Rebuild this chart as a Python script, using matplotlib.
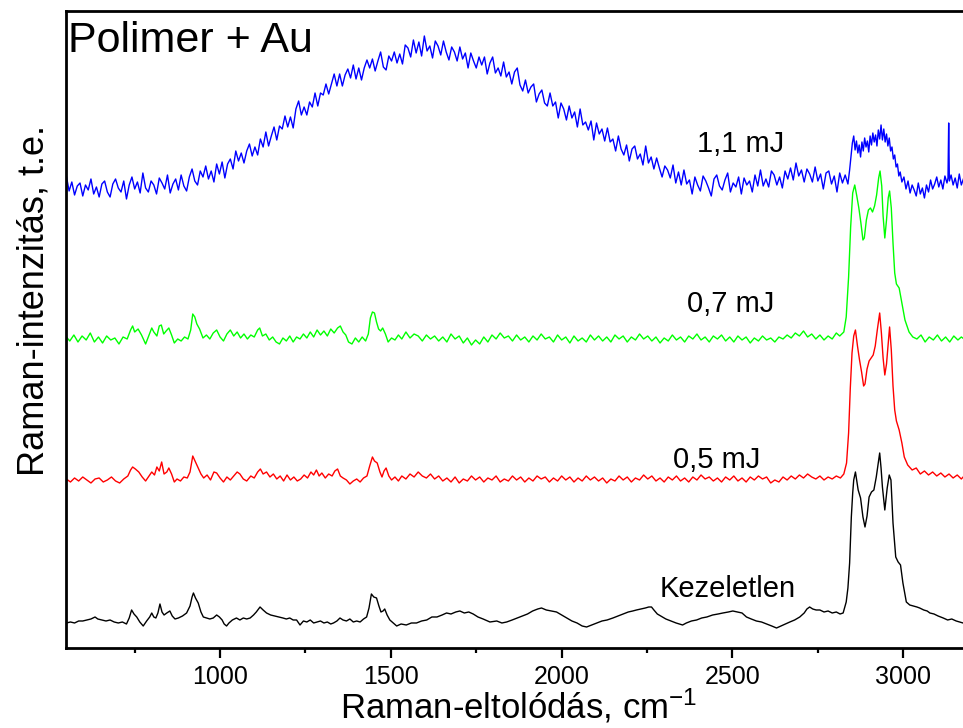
import matplotlib
matplotlib.use('Agg')
import matplotlib.pyplot as plt
from matplotlib.ticker import MultipleLocator

# ---- data: (Raman shift cm-1, offset intensity a.u.) ----
spec_11mJ = [
    (550, 472), (558, 457), (566, 466), (574, 453), (582, 462), (590, 465), (598, 452), (606, 463),
    (614, 458), (622, 469), (630, 454), (638, 461), (646, 451), (654, 464), (662, 467), (670, 456),
    (678, 451), (686, 464), (694, 469), (702, 460), (710, 456), (718, 467), (726, 449), (734, 463),
    (742, 471), (750, 459), (758, 466), (766, 455), (774, 475), (782, 460), (790, 456), (798, 467),
    (806, 463), (814, 454), (822, 470), (830, 465), (838, 459), (846, 473), (854, 455), (862, 464),
    (870, 469), (878, 458), (886, 473), (894, 462), (902, 457), (910, 471), (918, 479), (926, 467),
    (934, 463), (942, 477), (950, 471), (958, 482), (966, 469), (974, 477), (982, 466), (990, 484),
    (998, 474), (1006, 486), (1014, 470), (1022, 484), (1030, 489), (1038, 479), (1046, 497), (1054, 487),
    (1062, 495), (1070, 485), (1078, 497), (1086, 504), (1094, 492), (1102, 501), (1110, 493), (1118, 509),
    (1126, 501), (1134, 516), (1142, 502), (1150, 512), (1158, 521), (1166, 508), (1174, 522), (1182, 519),
    (1190, 532), (1198, 521), (1206, 531), (1214, 520), (1222, 539), (1230, 547), (1238, 533), (1246, 541),
    (1254, 533), (1262, 546), (1270, 541), (1278, 555), (1286, 542), (1294, 555), (1302, 553), (1310, 564),
    (1318, 554), (1326, 564), (1334, 574), (1342, 562), (1350, 574), (1358, 562), (1366, 573), (1374, 579),
    (1382, 570), (1390, 583), (1398, 569), (1406, 580), (1414, 568), (1422, 580), (1430, 588), (1438, 580),
    (1446, 589), (1454, 577), (1462, 587), (1470, 596), (1478, 581), (1486, 578), (1494, 592), (1502, 587),
    (1510, 596), (1518, 585), (1526, 594), (1534, 584), (1542, 603), (1550, 600), (1558, 591), (1566, 608),
    (1574, 595), (1582, 606), (1590, 592), (1598, 612), (1606, 597), (1614, 602), (1622, 590), (1630, 607),
    (1638, 602), (1646, 593), (1654, 607), (1662, 596), (1670, 588), (1678, 601), (1686, 596), (1694, 587),
    (1702, 601), (1710, 589), (1718, 595), (1726, 580), (1734, 595), (1742, 587), (1750, 580), (1758, 591),
    (1766, 583), (1774, 591), (1782, 574), (1790, 585), (1798, 591), (1806, 575), (1814, 580), (1822, 572),
    (1830, 586), (1838, 571), (1846, 576), (1854, 564), (1862, 576), (1870, 580), (1878, 563), (1886, 557),
    (1894, 568), (1902, 555), (1910, 561), (1918, 564), (1926, 546), (1934, 554), (1942, 558), (1950, 545),
    (1958, 542), (1966, 555), (1974, 542), (1982, 546), (1990, 530), (1998, 545), (2006, 539), (2014, 528),
    (2022, 542), (2030, 530), (2038, 536), (2046, 521), (2054, 539), (2062, 523), (2070, 526), (2078, 518),
    (2086, 527), (2094, 508), (2102, 525), (2110, 514), (2118, 519), (2126, 507), (2134, 520), (2142, 506),
    (2150, 509), (2158, 497), (2166, 512), (2174, 499), (2182, 493), (2190, 503), (2198, 487), (2206, 499),
    (2214, 502), (2222, 489), (2230, 494), (2238, 483), (2246, 502), (2254, 485), (2262, 491), (2270, 479),
    (2278, 490), (2286, 480), (2294, 471), (2302, 482), (2310, 478), (2318, 470), (2326, 483), (2334, 465),
    (2342, 476), (2350, 463), (2358, 478), (2366, 464), (2374, 468), (2382, 454), (2390, 471), (2398, 463),
    (2406, 457), (2414, 472), (2422, 467), (2430, 460), (2438, 452), (2446, 469), (2454, 473), (2462, 462),
    (2470, 458), (2478, 468), (2486, 475), (2494, 456), (2502, 465), (2510, 461), (2518, 471), (2526, 454),
    (2534, 470), (2542, 463), (2550, 467), (2558, 456), (2566, 473), (2574, 462), (2582, 478), (2590, 462),
    (2598, 469), (2606, 461), (2614, 477), (2622, 473), (2630, 463), (2638, 471), (2646, 460), (2654, 477),
    (2662, 469), (2670, 480), (2678, 468), (2686, 485), (2694, 472), (2702, 478), (2710, 466), (2718, 479),
    (2726, 474), (2734, 466), (2742, 481), (2750, 467), (2758, 474), (2766, 459), (2774, 475), (2782, 477),
    (2790, 464), (2798, 472), (2806, 456), (2814, 475), (2822, 465), (2830, 473), (2838, 464),
    (2843, 478), (2847, 492), (2851, 505), (2855, 512), (2859, 498), (2863, 507), (2867, 495), (2871, 503),
    (2875, 491), (2879, 506), (2883, 497), (2887, 510), (2891, 501), (2895, 507), (2899, 496), (2903, 512),
    (2907, 503), (2911, 515), (2915, 506), (2919, 513), (2923, 502), (2927, 518), (2931, 509), (2935, 523),
    (2939, 508), (2943, 519), (2947, 506), (2951, 514), (2955, 502), (2959, 510), (2963, 497), (2967, 501),
    (2971, 489), (2975, 493), (2979, 481), (2983, 484), (2987, 472), (2991, 476), (2996, 466), (3002, 471),
    (3008, 459), (3014, 467), (3020, 455), (3026, 463), (3032, 458), (3038, 452), (3044, 465), (3050, 454),
    (3056, 460), (3062, 450), (3068, 463), (3074, 456), (3080, 468), (3086, 459), (3092, 464), (3098, 471),
    (3104, 461), (3110, 468), (3116, 459), (3122, 472), (3128, 465), (3131, 470), (3133, 525), (3135, 467),
    (3140, 473), (3146, 463), (3152, 470), (3158, 460), (3164, 474), (3170, 463), (3176, 469),
]

spec_07mJ = [
    (550, 311), (560, 307), (572, 313), (584, 306), (596, 312), (608, 308), (620, 315), (632, 306),
    (644, 311), (656, 305), (668, 312), (680, 308), (692, 310), (704, 304), (716, 311), (728, 309),
    (738, 318), (744, 322), (750, 316), (760, 319), (770, 313), (782, 304), (792, 313), (800, 320),
    (806, 316), (815, 312), (822, 322), (828, 323), (835, 314), (842, 317), (850, 320), (858, 313),
    (866, 305), (876, 309), (886, 307), (896, 311), (906, 309), (914, 318), (920, 334), (926, 331),
    (932, 324), (940, 319), (950, 310), (960, 313), (970, 309), (980, 315), (990, 318), (1000, 311),
    (1010, 307), (1020, 314), (1030, 318), (1040, 312), (1050, 316), (1060, 310), (1070, 314), (1080, 309),
    (1090, 313), (1100, 311), (1110, 318), (1116, 320), (1124, 312), (1134, 314), (1144, 308), (1154, 311),
    (1164, 306), (1174, 304), (1184, 310), (1194, 307), (1204, 312), (1214, 306), (1224, 311), (1234, 309),
    (1244, 314), (1254, 310), (1264, 316), (1274, 311), (1284, 318), (1294, 313), (1304, 317), (1314, 312),
    (1324, 319), (1334, 315), (1344, 320), (1352, 322), (1360, 316), (1368, 313), (1376, 306), (1386, 304),
    (1396, 310), (1406, 306), (1416, 311), (1426, 307), (1434, 314), (1440, 330), (1446, 336), (1452, 335),
    (1458, 326), (1464, 319), (1470, 317), (1476, 320), (1484, 314), (1492, 306), (1502, 310), (1512, 308),
    (1522, 313), (1532, 309), (1544, 316), (1556, 310), (1568, 314), (1580, 312), (1592, 307), (1604, 313),
    (1616, 309), (1628, 312), (1640, 307), (1652, 311), (1664, 306), (1676, 314), (1688, 309), (1700, 312),
    (1712, 305), (1724, 310), (1736, 303), (1748, 308), (1760, 304), (1772, 311), (1784, 306), (1796, 313),
    (1808, 309), (1820, 315), (1832, 310), (1844, 312), (1856, 307), (1868, 313), (1880, 308), (1892, 311),
    (1904, 306), (1916, 312), (1928, 308), (1940, 314), (1952, 309), (1964, 311), (1976, 306), (1988, 313),
    (2000, 308), (2012, 311), (2024, 305), (2036, 312), (2048, 307), (2060, 310), (2072, 306), (2084, 313),
    (2096, 308), (2108, 312), (2120, 307), (2132, 311), (2144, 306), (2156, 313), (2168, 309), (2180, 312),
    (2192, 306), (2204, 311), (2216, 308), (2228, 314), (2240, 309), (2252, 312), (2264, 307), (2276, 311),
    (2288, 305), (2300, 310), (2312, 307), (2324, 313), (2336, 308), (2348, 311), (2360, 306), (2372, 312),
    (2384, 309), (2396, 314), (2408, 308), (2420, 311), (2432, 306), (2444, 312), (2456, 309), (2468, 313),
    (2480, 307), (2492, 311), (2504, 306), (2516, 312), (2528, 308), (2540, 311), (2552, 305), (2564, 310),
    (2576, 307), (2588, 312), (2600, 308), (2612, 310), (2624, 306), (2636, 311), (2648, 309), (2660, 313),
    (2672, 310), (2684, 315), (2696, 312), (2708, 317), (2720, 311), (2732, 314), (2744, 309), (2756, 313),
    (2768, 308), (2780, 312), (2792, 309), (2804, 315), (2814, 312), (2826, 316), (2833, 331), (2840, 371),
    (2846, 421), (2852, 455), (2858, 463), (2864, 452), (2870, 440), (2876, 425), (2882, 408), (2886, 410),
    (2892, 428), (2898, 438), (2904, 440), (2910, 436), (2916, 442), (2922, 453), (2928, 470), (2932, 477),
    (2937, 462), (2941, 432), (2946, 410), (2951, 428), (2956, 450), (2960, 457), (2965, 440), (2970, 405),
    (2975, 375), (2980, 364), (2988, 360), (2996, 345), (3005, 328), (3017, 316), (3028, 311), (3040, 309),
    (3052, 313), (3064, 306), (3076, 311), (3088, 308), (3100, 313), (3112, 307), (3124, 311), (3136, 306),
    (3148, 312), (3160, 308), (3170, 311), (3178, 309),
]

spec_05mJ = [
    (550, 169), (562, 166), (574, 170), (586, 167), (598, 171), (610, 168), (622, 165), (634, 169),
    (646, 170), (658, 166), (670, 168), (682, 171), (694, 167), (706, 165), (718, 169), (730, 172),
    (738, 178), (744, 181), (752, 179), (762, 176), (772, 171), (782, 167), (792, 172), (800, 176),
    (808, 173), (815, 181), (822, 177), (829, 186), (836, 174), (844, 176), (850, 180), (858, 174),
    (866, 166), (874, 169), (884, 167), (894, 171), (904, 170), (912, 176), (920, 192), (928, 186),
    (936, 180), (944, 174), (952, 170), (962, 173), (972, 168), (982, 176), (990, 175), (1000, 170),
    (1010, 166), (1020, 171), (1030, 168), (1040, 172), (1050, 176), (1058, 174), (1068, 169), (1078, 167),
    (1090, 172), (1100, 170), (1110, 176), (1118, 179), (1126, 174), (1136, 176), (1146, 171), (1156, 174),
    (1166, 169), (1176, 172), (1186, 167), (1196, 173), (1206, 168), (1216, 171), (1226, 167), (1236, 169),
    (1246, 173), (1256, 170), (1266, 176), (1274, 173), (1282, 178), (1290, 172), (1298, 175), (1308, 170),
    (1318, 174), (1328, 172), (1336, 177), (1344, 179), (1352, 172), (1360, 170), (1370, 168), (1380, 164),
    (1390, 167), (1400, 169), (1410, 166), (1420, 170), (1430, 172), (1438, 182), (1446, 191), (1452, 187),
    (1460, 185), (1468, 176), (1474, 171), (1480, 177), (1486, 180), (1494, 172), (1502, 168), (1512, 171),
    (1522, 167), (1532, 172), (1544, 169), (1556, 174), (1568, 171), (1580, 176), (1592, 172), (1604, 170),
    (1616, 174), (1628, 169), (1640, 172), (1652, 167), (1664, 170), (1676, 166), (1688, 171), (1700, 165),
    (1712, 169), (1724, 167), (1736, 172), (1748, 168), (1760, 171), (1772, 166), (1784, 170), (1796, 168),
    (1808, 172), (1820, 166), (1832, 169), (1844, 167), (1856, 172), (1868, 168), (1880, 171), (1892, 166),
    (1904, 170), (1916, 167), (1928, 172), (1940, 169), (1952, 171), (1964, 166), (1976, 170), (1988, 167),
    (2000, 172), (2012, 168), (2024, 171), (2036, 166), (2048, 170), (2060, 167), (2072, 172), (2084, 168),
    (2096, 171), (2108, 167), (2120, 170), (2132, 165), (2144, 169), (2156, 167), (2168, 172), (2180, 168),
    (2192, 171), (2204, 166), (2216, 170), (2228, 168), (2240, 173), (2252, 169), (2264, 172), (2276, 167),
    (2288, 170), (2300, 166), (2312, 171), (2324, 168), (2336, 172), (2348, 167), (2360, 170), (2372, 166),
    (2384, 171), (2396, 168), (2408, 173), (2420, 169), (2432, 171), (2444, 167), (2456, 170), (2468, 166),
    (2480, 171), (2492, 168), (2504, 172), (2516, 167), (2528, 170), (2540, 166), (2552, 171), (2564, 168),
    (2576, 172), (2588, 169), (2600, 171), (2612, 165), (2624, 168), (2636, 166), (2648, 171), (2660, 168),
    (2672, 172), (2684, 169), (2696, 173), (2708, 170), (2720, 174), (2732, 171), (2744, 169), (2756, 172),
    (2768, 168), (2780, 171), (2792, 169), (2804, 172), (2816, 170), (2826, 174), (2834, 185), (2840, 215),
    (2845, 260), (2850, 295), (2855, 312), (2860, 318), (2866, 302), (2872, 288), (2878, 276), (2884, 262),
    (2888, 264), (2894, 279), (2900, 287), (2906, 290), (2912, 293), (2918, 302), (2924, 318), (2931, 335),
    (2936, 315), (2941, 290), (2946, 273), (2951, 284), (2956, 305), (2960, 321), (2965, 298), (2970, 262),
    (2975, 238), (2980, 227), (2988, 218), (2996, 205), (3003, 191), (3013, 183), (3026, 178), (3038, 180),
    (3050, 174), (3062, 177), (3074, 173), (3086, 176), (3098, 172), (3110, 175), (3122, 171), (3134, 174),
    (3146, 170), (3158, 173), (3170, 169), (3178, 172),
]

spec_untreated = [
    (550, 25), (562, 26), (574, 25), (586, 27), (598, 27), (610, 28), (622, 29), (634, 31),
    (642, 29), (654, 28), (666, 27), (678, 28), (690, 26), (702, 25), (714, 26), (726, 24),
    (734, 30), (741, 38), (748, 34), (756, 31), (765, 26), (775, 22), (785, 27), (794, 31),
    (800, 35), (806, 31), (812, 30), (818, 35), (824, 44), (830, 36), (836, 33), (844, 35),
    (853, 37), (860, 32), (868, 29), (878, 30), (890, 32), (902, 35), (912, 42), (918, 51),
    (922, 55), (928, 50), (936, 45), (944, 36), (951, 31), (960, 30), (970, 29), (980, 30),
    (990, 33), (998, 31), (1006, 28), (1012, 24), (1019, 22), (1026, 25), (1036, 28), (1048, 30),
    (1058, 28), (1068, 30), (1078, 29), (1088, 30), (1098, 33), (1106, 36), (1117, 41), (1126, 38),
    (1136, 35), (1148, 33), (1160, 32), (1172, 31), (1184, 30), (1194, 29), (1204, 30), (1214, 28),
    (1224, 28), (1234, 23), (1244, 27), (1254, 26), (1264, 28), (1274, 25), (1284, 26), (1294, 27),
    (1304, 25), (1314, 26), (1324, 24), (1332, 25), (1342, 27), (1351, 30), (1360, 28), (1370, 27),
    (1380, 29), (1390, 26), (1400, 27), (1410, 26), (1420, 29), (1429, 31), (1436, 40), (1443, 54),
    (1450, 51), (1458, 50), (1465, 42), (1471, 36), (1477, 37), (1482, 39), (1489, 33), (1497, 28),
    (1507, 25), (1517, 22), (1530, 24), (1545, 23), (1560, 25), (1575, 25), (1590, 27), (1605, 28),
    (1620, 31), (1635, 31), (1650, 33), (1663, 35), (1676, 34), (1690, 36), (1702, 37), (1715, 35),
    (1728, 36), (1741, 34), (1755, 31), (1770, 29), (1790, 26), (1810, 27), (1825, 25), (1839, 26),
    (1855, 28), (1870, 30), (1885, 32), (1900, 34), (1915, 37), (1930, 39), (1941, 40), (1955, 38),
    (1970, 37), (1985, 36), (2000, 33), (2015, 30), (2030, 27), (2045, 25), (2060, 22), (2073, 21),
    (2088, 23), (2103, 25), (2118, 27), (2133, 28), (2150, 30), (2165, 32), (2180, 34), (2195, 36),
    (2208, 37), (2219, 38), (2232, 39), (2245, 40), (2255, 41), (2263, 41), (2270, 38), (2280, 34),
    (2290, 32), (2305, 29), (2320, 27), (2335, 25), (2345, 24), (2354, 23), (2365, 25), (2380, 27),
    (2395, 28), (2410, 30), (2425, 31), (2442, 33), (2458, 34), (2472, 35), (2488, 36), (2501, 37),
    (2515, 36), (2528, 35), (2541, 31), (2555, 29), (2570, 27), (2585, 26), (2600, 24), (2615, 22),
    (2629, 20), (2642, 22), (2655, 24), (2668, 26), (2682, 28), (2697, 31), (2710, 35), (2718, 39),
    (2726, 41), (2735, 39), (2745, 38), (2756, 38), (2768, 36), (2780, 37), (2792, 35), (2804, 36),
    (2815, 34), (2824, 35), (2833, 46), (2838, 60), (2843, 85), (2848, 131), (2852, 155), (2855, 168),
    (2860, 176), (2864, 167), (2868, 158), (2875, 150), (2882, 131), (2888, 121), (2894, 132), (2900, 151),
    (2907, 156), (2914, 158), (2921, 171), (2926, 183), (2931, 195), (2935, 180), (2939, 161), (2946, 138),
    (2953, 160), (2959, 173), (2964, 168), (2970, 125), (2978, 91), (2985, 86), (2992, 83), (2999, 65),
    (3009, 46), (3019, 43), (3030, 42), (3040, 41), (3048, 40), (3060, 38), (3070, 37), (3078, 35),
    (3090, 34), (3102, 32), (3117, 30), (3130, 28), (3142, 29), (3155, 27), (3165, 26), (3175, 25),
]

series = [
    (spec_untreated, 'black'),
    (spec_05mJ, '#ff0000'),
    (spec_07mJ, '#00ff00'),
    (spec_11mJ, '#0000ff'),
]

labels = ['Kezeletlen', '0,5 mJ', '0,7 mJ', '1,1 mJ']
label_pos = [(2287, 51), (2325, 180), (2366, 336), (2395, 496)]
title_text = 'Polimer + Au'

# ---- styling ----
plt.rcParams['font.family'] = ['Liberation Sans', 'DejaVu Sans']
plt.rcParams['mathtext.fontset'] = 'custom'
plt.rcParams['mathtext.rm'] = 'Liberation Sans'
plt.rcParams['mathtext.it'] = 'Liberation Sans:italic'
plt.rcParams['mathtext.default'] = 'regular'

fig = plt.figure(figsize=(9.63, 7.28), dpi=100)
ax = fig.add_axes([0.0682, 0.1099, 0.9407, 0.875])

for pts, col in series:
    xs, ys = zip(*pts)
    ax.plot(xs, ys, color=col, lw=1.0)

ax.set_xlim(548, 3200)
ax.set_ylim(0, 637)

ax.xaxis.set_major_locator(MultipleLocator(500))
ax.xaxis.set_minor_locator(MultipleLocator(250))
ax.tick_params(axis='x', which='major', length=7, width=1.6, direction='out',
               labelsize=18, pad=5)
ax.tick_params(axis='x', which='minor', length=3.5, width=1.6, direction='out')
ax.set_yticks([])
for s in ax.spines.values():
    s.set_linewidth(2.0)

ax.set_xlabel(r'Raman-eltolódás, cm$^{-1}$', fontsize=25, labelpad=-1.5)
ax.set_ylabel('Raman-intenzitás, t.e.', fontsize=26)
ax.yaxis.set_label_coords(-0.016, 0.546)

for txt, (xw, yi) in zip(labels, label_pos):
    ax.text(xw, yi, txt, fontsize=21, ha='left', va='baseline')

ax.text(556, 596, title_text, fontsize=31, ha='left', va='baseline')

fig.savefig('out.png', dpi=100)
